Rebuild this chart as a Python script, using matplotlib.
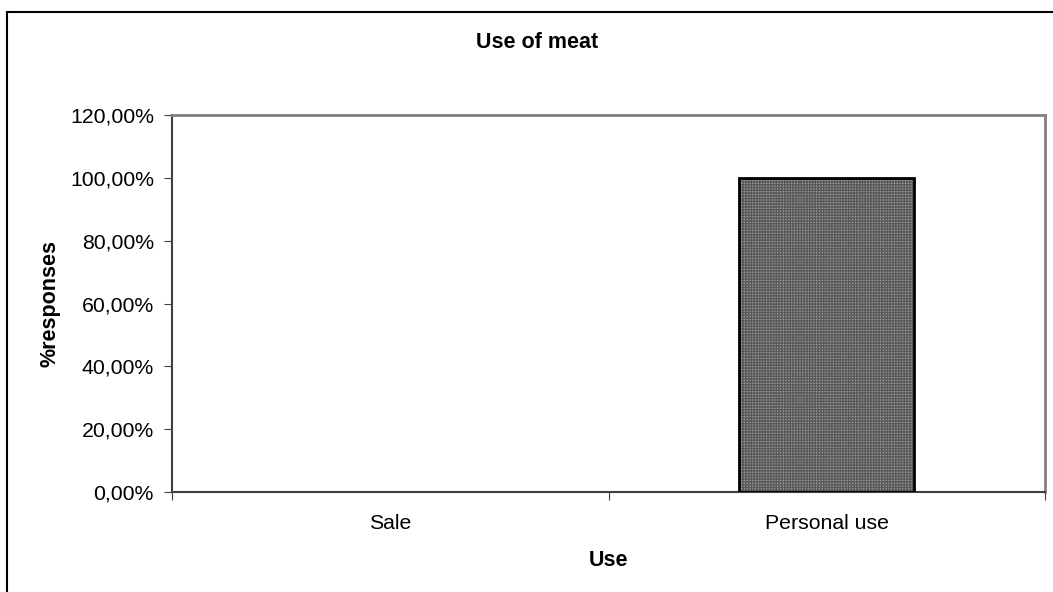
import matplotlib.pyplot as plt
from matplotlib.patches import Rectangle
from matplotlib.ticker import FuncFormatter

# data
categories = ['Sale', 'Personal use']
values = [0.0, 100.0]
y_ticks = [0, 20, 40, 60, 80, 100, 120]

plt.rcParams['font.family'] = ['Liberation Sans', 'DejaVu Sans']
plt.rcParams['hatch.linewidth'] = 1.0

fig = plt.figure(figsize=(10.53, 5.92), dpi=100)
ax = fig.add_axes([172 / 1053, 1 - 492 / 592, (1045 - 172) / 1053, (492 - 115) / 592])

x = range(len(categories))
# checkered fill, then black outline on top (no outline for empty bars)
ax.bar(x, values, width=0.4, color='#a0a0a0', edgecolor='#5a5a5a', hatch='++++++', linewidth=0, zorder=2)
ax.bar(x, values, width=0.4, fill=False, edgecolor='black',
       linewidth=[2 if v > 0 else 0 for v in values], zorder=3)

ax.set_xlim(-0.5, len(categories) - 0.5)
ax.set_ylim(0, 120)
ax.set_yticks(y_ticks)
ax.yaxis.set_major_formatter(FuncFormatter(lambda v, p: f'{v:.2f}'.replace('.', ',') + '%'))

# category labels centred, ticks at the category boundaries
ax.set_xticks([i - 0.5 for i in range(len(categories) + 1)])
ax.set_xticklabels([])
ax.set_xticks(list(x), minor=True)
ax.set_xticklabels(categories, minor=True)
ax.tick_params(axis='x', which='minor', length=0, pad=16, labelsize=15.3)
ax.tick_params(axis='x', which='major', length=6, direction='out', color='#404040')
ax.tick_params(axis='y', length=6, direction='out', color='#404040', labelsize=15.3, pad=7)

for side in ['top', 'right']:
    ax.spines[side].set_color('#808080')
    ax.spines[side].set_linewidth(2)
for side in ['left', 'bottom']:
    ax.spines[side].set_color('#404040')
    ax.spines[side].set_linewidth(1.5)

ax.set_xlabel('Use', fontsize=15.5, fontweight='bold')
ax.set_ylabel('%responses', fontsize=15.5, fontweight='bold')
ax.xaxis.set_label_coords(0.5, (492 - 560) / 377)
ax.yaxis.set_label_coords((50 - 172) / 873, 0.5)
ax.xaxis.label.set_va('center')
ax.yaxis.label.set_va('center')
fig.text(537 / 1053, 1 - 43 / 592, 'Use of meat', ha='center', va='center', fontsize=15.5, fontweight='bold')

# chart-area border
fig.patches.append(Rectangle((7 / 1053, -0.1), 1.1, 1.1 - 12 / 592, transform=fig.transFigure,
                             fill=False, edgecolor='black', linewidth=1.5))

fig.savefig('out.png', dpi=100)
